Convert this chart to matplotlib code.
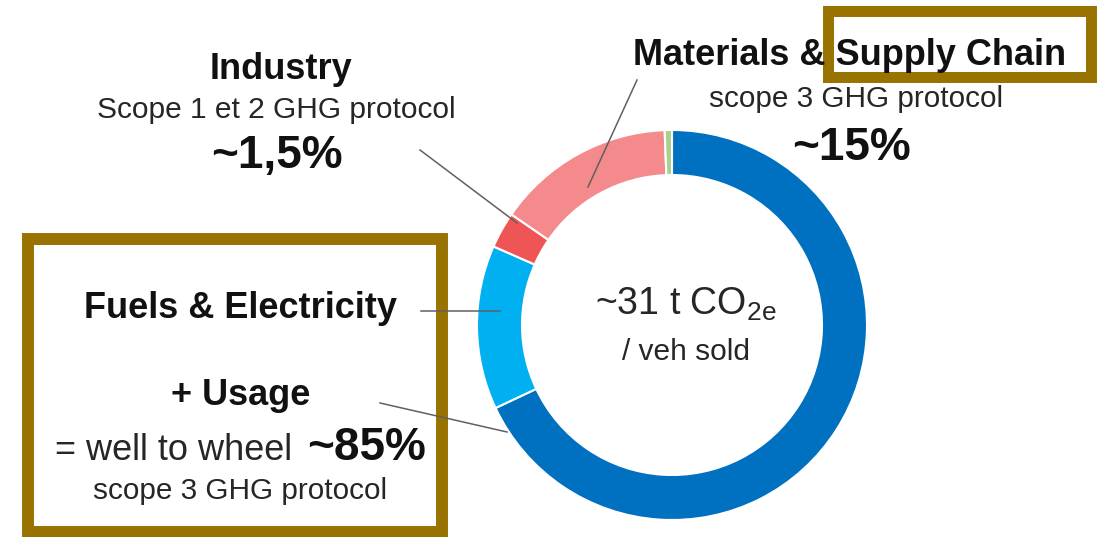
import matplotlib
matplotlib.use("Agg")
import matplotlib.pyplot as plt
from matplotlib.patches import Rectangle

plt.rcParams['font.family'] = ['Liberation Sans', 'DejaVu Sans']
plt.rcParams['mathtext.fontset'] = 'custom'
plt.rcParams['mathtext.rm'] = 'Liberation Sans'

# Emission shares per vehicle sold (%), clockwise from the top
segments = ["Usage", "Fuels & Electricity", "Industry", "Materials & Supply Chain", "Other"]
shares = [68.0, 13.6, 3.0, 14.8, 0.6]
colors = ["#0070C0", "#00B0F0", "#F05555", "#F48A8B", "#A9D08E"]

W, H = 1107, 537
fig = plt.figure(figsize=(W / 100, H / 100), dpi=100)
ax = fig.add_axes([0, 0, 1, 1])

def y(py):
    # pixel rows are counted from the top
    return H - py

cx, cy, r = 672, 325, 195
ax.pie(shares, colors=colors, startangle=90, counterclock=False,
       center=(cx, y(cy)), radius=r, frame=True,
       wedgeprops=dict(width=45, edgecolor="white", linewidth=1.5))
ax.set_xlim(0, W)
ax.set_ylim(0, H)
ax.set_aspect("equal")
ax.axis("off")

dark = "#111111"
grey = "#262626"

# centre text
ax.text(595, y(315), r"~31 t CO$_{\mathregular{2e}}$", fontsize=27, color=grey, ha="left", va="baseline")
ax.text(686, y(360), "/ veh sold", fontsize=21.5, color=grey, ha="center", va="baseline")

# Industry
ax.text(281, y(79), "Industry", fontsize=26, weight="bold", color=dark, ha="center", va="baseline")
ax.text(276, y(118), "Scope 1 et 2 GHG protocol", fontsize=21.5, color=grey, ha="center", va="baseline")
ax.text(277, y(168), "~1,5%", fontsize=33, weight="bold", color=dark, ha="center", va="baseline")

# Materials & Supply Chain
ax.text(850, y(65), "Materials & Supply Chain", fontsize=26, weight="bold", color=dark, ha="center", va="baseline")
ax.text(856, y(107), "scope 3 GHG protocol", fontsize=21.4, color=grey, ha="center", va="baseline")
ax.text(851, y(160), "~15%", fontsize=33, weight="bold", color=dark, ha="center", va="baseline")

# Fuels & Electricity + Usage
ax.text(240, y(318), "Fuels & Electricity", fontsize=26, weight="bold", color=dark, ha="center", va="baseline")
ax.text(241, y(405), "+ Usage", fontsize=26, weight="bold", color=dark, ha="center", va="baseline")
ax.text(55, y(460), "= well to wheel", fontsize=26, color=grey, ha="left", va="baseline")
ax.text(307, y(460), "~85%", fontsize=33, weight="bold", color=dark, ha="left", va="baseline")
ax.text(240, y(499), "scope 3 GHG protocol", fontsize=21.4, color=grey, ha="center", va="baseline")

# leader lines
line_kw = dict(color="#606060", lw=1.1)
ax.plot([420, 517], [y(150), y(223)], **line_kw)
ax.plot([637, 588], [y(80), y(187)], **line_kw)
ax.plot([421, 500], [y(311), y(311)], **line_kw)
ax.plot([380, 507], [y(403), y(432)], **line_kw)

# highlight boxes
gold = "#997300"
ax.add_patch(Rectangle((28, y(532)), 414, 293, fill=False, edgecolor=gold, lw=8.6))
ax.add_patch(Rectangle((827.5, y(77)), 263.5, 66.5, fill=False, edgecolor=gold, lw=7.9))

fig.savefig("out.png", dpi=100)
